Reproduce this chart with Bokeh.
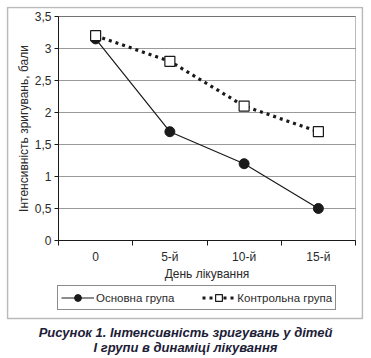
from bokeh.plotting import figure
from bokeh.models import (Range1d, FixedTicker, CustomJSTickFormatter, BoxAnnotation,
                          Legend, LegendItem, Label, ColumnDataSource)
from bokeh.embed import file_html
from bokeh.resources import INLINE

# ---- data ----
days = ["0", "5-й", "10-й", "15-й"]
main_group = [3.15, 1.7, 1.2, 0.5]
control_group = [3.2, 2.8, 2.1, 1.7]
y_ticks = [0, 0.5, 1, 1.5, 2, 2.5, 3, 3.5]
series_names = ["Основна група", "Контрольна група"]
x_title = "День лікування"
y_title = "Інтенсивність зригувань, бали"
caption = ["Рисунок 1. Інтенсивність зригувань у дітей", "І групи в динаміці лікування"]

FONT = "Liberation Sans"
INK = "#1a1a1a"
TXT = "#2a2a2a"

# ---- layout (pixels) ----
W, H = 364, 358
FL, FR, FT, FB = 6, 363, 6, 358        # drawing frame (whole picture)
BL, BR, BT, BB = 7, 362, 7, 318        # outer box around the chart
IL, IR, IT, IB = 58, 355, 16, 240      # plot area
CAP_X, CAP_Y = 185, [332, 347]         # caption line centres
y_max = y_ticks[-1]
n = len(days)
xs = (IR - IL) / n
ys = (IB - IT) / y_max
def px2x(px): return (px - IL) / xs
def px2y(py): return (IB - py) / ys

# category slots: each day occupies one unit, its point sits at the slot centre
slot_centres = [i + 0.5 for i in range(n)]
slot_edges = list(range(n + 1))

p = figure(width=W, height=H,
           x_range=Range1d(px2x(FL), px2x(FR)),
           y_range=Range1d(px2y(FB), px2y(FT)),
           output_backend="svg", toolbar_location=None,
           min_border_left=FL, min_border_right=W - FR, min_border_top=FT,
           min_border_bottom=H - FB)
p.background_fill_color = "white"
p.border_fill_color = "white"
p.outline_line_color = None
p.grid.visible = False

# outer box and plot area
p.add_layout(BoxAnnotation(left=px2x(BL), right=px2x(BR), bottom=px2y(BB), top=px2y(BT),
                           fill_alpha=0, line_color=INK, line_width=1.6))
p.segment(x0=0, x1=n, y0=y_ticks, y1=y_ticks, line_color="#9a9a9a", line_width=1.2)
p.add_layout(BoxAnnotation(left=0, right=n, bottom=0, top=y_max,
                           fill_alpha=0, line_color=INK, line_width=1))

xaxis = p.xaxis[0]
xaxis.fixed_location = 0
xaxis.bounds = (0, n)
xaxis.ticker = FixedTicker(ticks=slot_centres, minor_ticks=slot_edges)
xaxis.major_label_overrides = {c: d for c, d in zip(slot_centres, days)}
xaxis.axis_label = x_title
xaxis.major_tick_line_color = None
xaxis.major_tick_in = 0
xaxis.major_tick_out = 0
xaxis.minor_tick_line_color = INK
xaxis.minor_tick_in = 0
xaxis.minor_tick_out = 5
xaxis.axis_line_color = INK
xaxis.major_label_text_font = FONT
xaxis.major_label_text_font_size = "12px"
xaxis.major_label_text_color = TXT
xaxis.major_label_standoff = 4
xaxis.axis_label_text_font = FONT
xaxis.axis_label_text_font_size = "12px"
xaxis.axis_label_text_font_style = "normal"
xaxis.axis_label_text_color = TXT
xaxis.axis_label_standoff = 0

yaxis = p.yaxis[0]
yaxis.fixed_location = 0
yaxis.bounds = (0, y_max)
yaxis.ticker = FixedTicker(ticks=y_ticks)
yaxis.formatter = CustomJSTickFormatter(code="return tick.toString().replace('.', ',');")
yaxis.minor_tick_line_color = None
yaxis.major_tick_in = 0
yaxis.major_tick_out = 4
yaxis.major_tick_line_color = INK
yaxis.axis_line_color = INK
yaxis.major_label_text_font = FONT
yaxis.major_label_text_font_size = "12px"
yaxis.major_label_text_color = TXT
yaxis.major_label_standoff = 3
yaxis.axis_label = y_title
yaxis.axis_label_text_font = FONT
yaxis.axis_label_text_font_size = "12px"
yaxis.axis_label_text_font_style = "normal"
yaxis.axis_label_text_color = TXT
yaxis.axis_label_standoff = 1

src = ColumnDataSource(dict(x=slot_centres, day=days, main=main_group, control=control_group))
l1 = p.line("x", "main", source=src, line_color=INK, line_width=1.2)
s1 = p.scatter("x", "main", source=src, marker="circle", size=10,
               fill_color=INK, line_color=INK)
l2 = p.line("x", "control", source=src, line_color=INK, line_width=3.2, line_dash="3 4")
s2 = p.scatter("x", "control", source=src, marker="square", size=10,
               fill_color="white", line_color=INK, line_width=1.2)

legend = Legend(items=[LegendItem(label=series_names[0], renderers=[l1, s1]),
                       LegendItem(label=series_names[1], renderers=[l2, s2])],
                orientation="horizontal", location=(57 - FL, FB - 310),
                border_line_color=INK, border_line_width=1.2,
                background_fill_color="white", background_fill_alpha=1,
                label_text_font=FONT, label_text_font_size="11.5px", label_text_color=TXT,
                glyph_width=33, glyph_height=17, spacing=28, padding=3, margin=0,
                label_standoff=2, label_height=17)
p.add_layout(legend, "center")

for t, cy in zip(caption, CAP_Y):
    p.add_layout(Label(x=px2x(CAP_X), y=px2y(cy), text=t,
                       text_align="center", text_baseline="middle",
                       text_font=FONT, text_font_size="13px", text_font_style="bold italic",
                       text_color="#1c2036"))

open("out.html", "w").write(file_html(p, INLINE))
